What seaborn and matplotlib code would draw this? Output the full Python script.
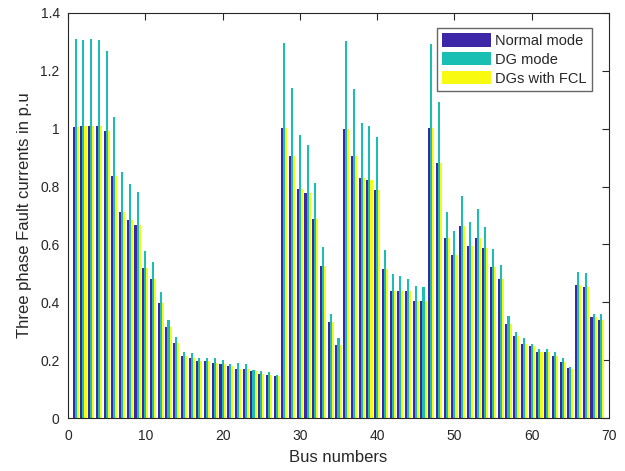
import matplotlib
matplotlib.use("Agg")
import matplotlib.pyplot as plt
import matplotlib.ticker as mticker
import numpy as np
import pandas as pd
import seaborn as sns

# Bus numbers of the distribution feeder
buses = list(range(1, 70))

# Three phase fault currents (p.u) per bus
normal_mode = [
    1.007, 1.010, 1.010, 1.010, 0.993, 0.838, 0.713, 0.685, 0.668, 0.520,
    0.482, 0.399, 0.316, 0.260, 0.215, 0.209, 0.198, 0.198, 0.191, 0.188,
    0.181, 0.171, 0.171, 0.164, 0.153, 0.150, 0.146, 1.003, 0.907, 0.793,
    0.779, 0.689, 0.527, 0.333, 0.253, 1.000, 0.907, 0.831, 0.824, 0.789,
    0.516, 0.440, 0.440, 0.440, 0.406, 0.406, 1.003, 0.882, 0.623, 0.565,
    0.665, 0.596, 0.623, 0.589, 0.523, 0.482, 0.326, 0.285, 0.257, 0.250,
    0.229, 0.229, 0.215, 0.195, 0.174, 0.461, 0.454, 0.350, 0.340,
]
dg_mode = [
    1.311, 1.308, 1.311, 1.308, 1.270, 1.041, 0.851, 0.810, 0.782, 0.578,
    0.540, 0.437, 0.340, 0.281, 0.229, 0.226, 0.209, 0.209, 0.209, 0.202,
    0.188, 0.191, 0.188, 0.167, 0.164, 0.160, 0.150, 1.297, 1.142, 0.979,
    0.945, 0.813, 0.592, 0.361, 0.278, 1.304, 1.138, 1.021, 1.010, 0.972,
    0.582, 0.499, 0.492, 0.482, 0.457, 0.454, 1.294, 1.093, 0.713, 0.647,
    0.768, 0.679, 0.724, 0.661, 0.585, 0.530, 0.354, 0.298, 0.278, 0.257,
    0.240, 0.240, 0.229, 0.209, 0.177, 0.506, 0.502, 0.361, 0.361,
]
dgs_with_fcl = [
    1.007, 1.010, 1.010, 1.010, 0.993, 0.838, 0.713, 0.685, 0.668, 0.520,
    0.482, 0.399, 0.316, 0.260, 0.215, 0.209, 0.198, 0.198, 0.191, 0.188,
    0.181, 0.171, 0.171, 0.164, 0.153, 0.150, 0.146, 1.003, 0.907, 0.793,
    0.779, 0.689, 0.527, 0.333, 0.253, 1.000, 0.907, 0.831, 0.824, 0.789,
    0.516, 0.440, 0.440, 0.440, 0.406, 0.406, 1.003, 0.882, 0.623, 0.565,
    0.665, 0.596, 0.623, 0.589, 0.523, 0.482, 0.326, 0.285, 0.257, 0.250,
    0.229, 0.229, 0.215, 0.195, 0.171, 0.461, 0.454, 0.350, 0.340,
]

series_names = ["Normal mode", "DG mode", "DGs with FCL"]
series_colors = ["#3E26A8", "#1ABFB4", "#F8FA0F"]

df = pd.concat(
    [
        pd.DataFrame({"bus": buses, "current": vals, "mode": name})
        for name, vals in zip(series_names, [normal_mode, dg_mode, dgs_with_fcl])
    ],
    ignore_index=True,
)

sns.set_style("white")
plt.rcParams["font.family"] = ["Liberation Sans", "DejaVu Sans"]

fig = plt.figure(figsize=(6.25, 4.71), dpi=100)
ax = fig.add_axes([0.1088, 0.1125, 0.8656, 0.8600])

sns.barplot(
    data=df, x="bus", y="current", hue="mode", hue_order=series_names,
    palette=series_colors, native_scale=True, width=0.8, gap=0,
    errorbar=None, linewidth=0, saturation=1, ax=ax,
)

ax.set_xlim(0, 70)
ax.set_ylim(0, 1.4)
ax.set_xticks(np.arange(0, 71, 10))
ax.set_yticks(np.arange(0, 1.41, 0.2))
ax.yaxis.set_major_formatter(mticker.FuncFormatter(lambda v, p: f"{v:g}"))

ax.set_xlabel("Bus numbers", fontsize=12, color="#262626", labelpad=5)
ax.set_ylabel("Three phase Fault currents in p.u", fontsize=12, color="#262626", labelpad=6)

for sp in ax.spines.values():
    sp.set_visible(True)
    sp.set_color("#262626")
    sp.set_linewidth(0.8)
ax.tick_params(axis="both", which="both", direction="in", length=5, width=0.8,
               colors="#262626", labelsize=10, top=True, right=True,
               labelcolor="#262626")
ax.tick_params(axis="x", pad=8)
ax.tick_params(axis="y", pad=6)

leg = ax.legend(
    loc="upper right", bbox_to_anchor=(0.9686, 0.962), borderaxespad=0,
    frameon=True, fancybox=False, fontsize=10.5, handlelength=3.4,
    handleheight=1.0, handletextpad=0.28, labelspacing=0.3, borderpad=0.35,
    title=None,
)
leg.get_frame().set_edgecolor("#404040")
leg.get_frame().set_linewidth(1.0)

fig.savefig("out.png", dpi=100, facecolor="white")
